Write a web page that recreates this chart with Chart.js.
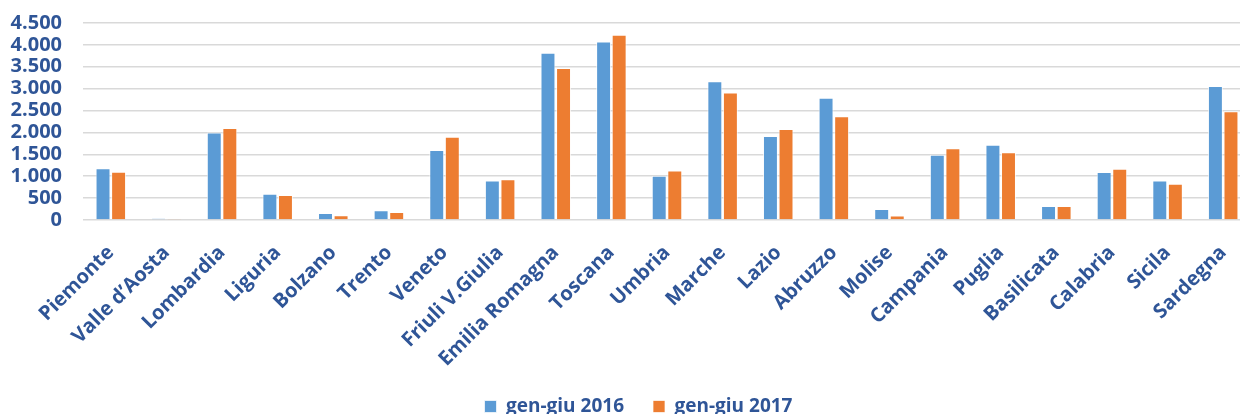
<!DOCTYPE html>
<html>
<head>
<meta charset="utf-8">
<script src="https://cdn.jsdelivr.net/npm/chart.js@4/dist/chart.umd.min.js"></script>
<style>
  html, body { margin: 0; padding: 0; background: #fff; overflow: hidden; width: 1240px; height: 414px; }
  #wrap { width: 1252px; height: 414px; }
</style>
</head>
<body>
<div id="wrap"><canvas id="c" width="1252" height="414"></canvas></div>
<script>
const categories = ['Piemonte', 'Valle d\u2019Aosta', 'Lombardia', 'Liguria', 'Bolzano', 'Trento', 'Veneto', 'Friuli V.Giulia', 'Emilia Romagna', 'Toscana', 'Umbria', 'Marche', 'Lazio', 'Abruzzo', 'Molise', 'Campania', 'Puglia', 'Basilicata', 'Calabria', 'Sicila', 'Sardegna'];
const series2016 = [1180, 35, 2000, 600, 160, 220, 1600, 905, 3820, 4080, 1010, 3170, 1920, 2790, 250, 1490, 1720, 320, 1095, 905, 3060];
const series2017 = [1100, 30, 2100, 570, 110, 185, 1900, 930, 3470, 4230, 1130, 2910, 2080, 2370, 105, 1640, 1550, 320, 1170, 830, 2485];
const seriesNames = ['gen-giu 2016', 'gen-giu 2017'];
const yTickLabels = ['0', '500', '1.000', '1.500', '2.000', '2.500', '3.000', '3.500', '4.000', '4.500'];

const TXT = '#2F5597';
const FONT = "'Open Sans', 'Noto Sans', sans-serif";

const legendShift = {
  id: 'legendShift',
  afterLayout(chart) {
    if (chart.legend) { chart.legend.left += 8; chart.legend.right += 8; }
  }
};

new Chart(document.getElementById('c'), {
  type: 'bar',
  data: {
    labels: categories,
    datasets: [
      { label: seriesNames[0], data: series2016, backgroundColor: '#5B9BD5', borderColor: 'rgba(255,255,255,0.7)', borderWidth: 1, categoryPercentage: 0.56, barPercentage: 0.96 },
      { label: seriesNames[1], data: series2017, backgroundColor: '#ED7D31', borderColor: 'rgba(255,255,255,0.7)', borderWidth: 1, categoryPercentage: 0.56, barPercentage: 0.96 }
    ]
  },
  plugins: [legendShift],
  options: {
    responsive: false,
    animation: false,
    devicePixelRatio: 1,
    layout: { padding: { top: 23, left: 10, right: 1, bottom: -12 } },
    plugins: {
      title: { display: false },
      tooltip: { enabled: false },
      legend: {
        position: 'bottom',
        labels: {
          color: TXT,
          font: { family: FONT, size: 19, weight: 'bold' },
          boxWidth: 12,
          boxHeight: 12,
          padding: 29
        }
      }
    },
    scales: {
      x: {
        afterFit: (s) => { s.height = 148; s.paddingLeft = 0; s.paddingRight = 0; },
        grid: { display: false, drawTicks: false },
        border: { display: false },
        ticks: {
          color: TXT,
          font: { family: FONT, size: 20, weight: 'bold' },
          maxRotation: 45,
          minRotation: 45,
          autoSkip: false,
          padding: 21
        }
      },
      y: {
        min: 0,
        max: 4500,
        afterFit: (s) => { s.width = 73; s.paddingTop = 0; s.paddingBottom = 0; },
        grid: { color: '#D9D9D9', lineWidth: 1.5, drawTicks: false },
        border: { display: false },
        ticks: {
          stepSize: 500,
          autoSkip: false,
          color: TXT,
          font: { family: FONT, size: 20, weight: 'bold' },
          padding: 21,
          callback: (v) => yTickLabels[Math.round(v / 500)]
        }
      }
    }
  }
});
</script>
</body>
</html>
